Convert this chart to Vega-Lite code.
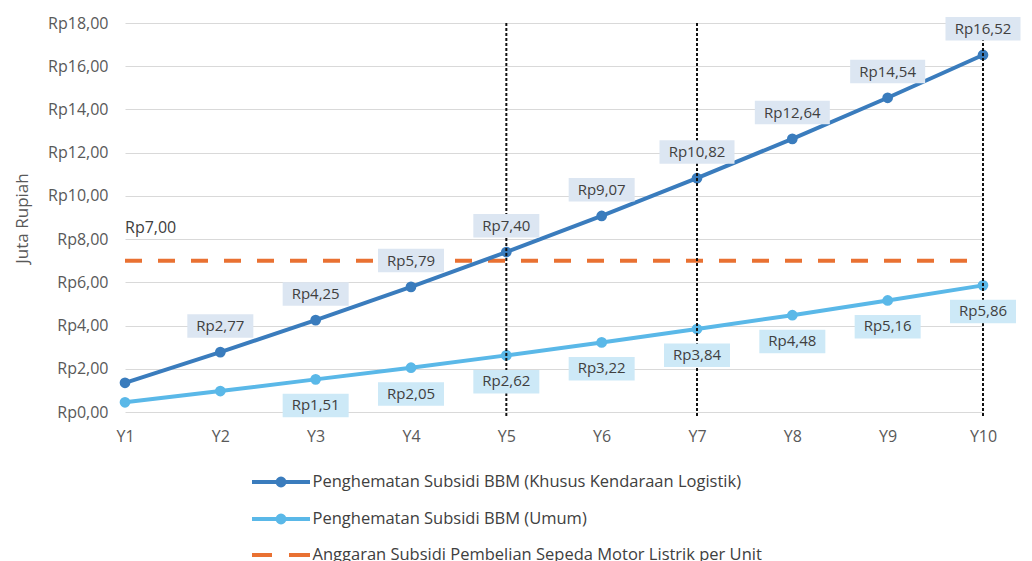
{
  "$schema": "https://vega.github.io/schema/vega-lite/v6.json",
  "autosize": "none",
  "width": 858,
  "height": 389,
  "padding": {"left": 125, "top": 23, "right": 49, "bottom": 149},
  "background": "white",
  "config": {
    "locale": {"number": {"decimal": ",", "thousands": ".", "grouping": [3], "currency": ["Rp", ""]}},
    "view": {"stroke": null},
    "font": "Open Sans"
  },
  "datasets": {
    "lines": [
      {"x": "Y1", "series": "Penghematan Subsidi BBM (Khusus Kendaraan Logistik)", "v": 1.35},
      {"x": "Y2", "series": "Penghematan Subsidi BBM (Khusus Kendaraan Logistik)", "v": 2.77},
      {"x": "Y3", "series": "Penghematan Subsidi BBM (Khusus Kendaraan Logistik)", "v": 4.25},
      {"x": "Y4", "series": "Penghematan Subsidi BBM (Khusus Kendaraan Logistik)", "v": 5.79},
      {"x": "Y5", "series": "Penghematan Subsidi BBM (Khusus Kendaraan Logistik)", "v": 7.40},
      {"x": "Y6", "series": "Penghematan Subsidi BBM (Khusus Kendaraan Logistik)", "v": 9.07},
      {"x": "Y7", "series": "Penghematan Subsidi BBM (Khusus Kendaraan Logistik)", "v": 10.82},
      {"x": "Y8", "series": "Penghematan Subsidi BBM (Khusus Kendaraan Logistik)", "v": 12.64},
      {"x": "Y9", "series": "Penghematan Subsidi BBM (Khusus Kendaraan Logistik)", "v": 14.54},
      {"x": "Y10", "series": "Penghematan Subsidi BBM (Khusus Kendaraan Logistik)", "v": 16.52},
      {"x": "Y1", "series": "Penghematan Subsidi BBM (Umum)", "v": 0.45},
      {"x": "Y2", "series": "Penghematan Subsidi BBM (Umum)", "v": 0.97},
      {"x": "Y3", "series": "Penghematan Subsidi BBM (Umum)", "v": 1.51},
      {"x": "Y4", "series": "Penghematan Subsidi BBM (Umum)", "v": 2.05},
      {"x": "Y5", "series": "Penghematan Subsidi BBM (Umum)", "v": 2.62},
      {"x": "Y6", "series": "Penghematan Subsidi BBM (Umum)", "v": 3.22},
      {"x": "Y7", "series": "Penghematan Subsidi BBM (Umum)", "v": 3.84},
      {"x": "Y8", "series": "Penghematan Subsidi BBM (Umum)", "v": 4.48},
      {"x": "Y9", "series": "Penghematan Subsidi BBM (Umum)", "v": 5.16},
      {"x": "Y10", "series": "Penghematan Subsidi BBM (Umum)", "v": 5.86}
    ],
    "budget": [
      {"x": "Y1", "series": "Anggaran Subsidi Pembelian Sepeda Motor Listrik per Unit", "v": 7.0},
      {"x": "Y10", "series": "Anggaran Subsidi Pembelian Sepeda Motor Listrik per Unit", "v": 7.0}
    ],
    "dark_labels": [
      {"x": "Y2", "v": 2.77}, {"x": "Y3", "v": 4.25}, {"x": "Y4", "v": 5.79},
      {"x": "Y5", "v": 7.40}, {"x": "Y6", "v": 9.07}, {"x": "Y7", "v": 10.82},
      {"x": "Y8", "v": 12.64}, {"x": "Y9", "v": 14.54}, {"x": "Y10", "v": 16.52}
    ],
    "light_labels": [
      {"x": "Y3", "v": 1.51}, {"x": "Y4", "v": 2.05}, {"x": "Y5", "v": 2.62},
      {"x": "Y6", "v": 3.22}, {"x": "Y7", "v": 3.84}, {"x": "Y8", "v": 4.48},
      {"x": "Y9", "v": 5.16}, {"x": "Y10", "v": 5.86}
    ],
    "markers": [{"x": "Y5"}, {"x": "Y7"}, {"x": "Y10"}],
    "budget_label": [{"x": "Y1", "v": 7.0}]
  },
  "encoding": {
    "x": {
      "field": "x", "type": "ordinal",
      "scale": {"type": "point", "padding": 0, "domain": ["Y1","Y2","Y3","Y4","Y5","Y6","Y7","Y8","Y9","Y10"]},
      "axis": {"title": null, "domain": false, "ticks": false, "grid": false, "labelAngle": 0,
               "labelPadding": 16, "labelFontSize": 16, "labelColor": "#595959"}
    },
    "y": {
      "field": "v", "type": "quantitative",
      "scale": {"domain": [0, 18], "nice": false},
      "axis": {"title": "Juta Rupiah", "values": [0,2,4,6,8,10,12,14,16,18], "format": "$.2f",
               "domain": false, "ticks": false, "grid": true, "gridColor": "#d9d9d9", "gridWidth": 1,
               "labelPadding": 17, "labelFontSize": 16, "labelColor": "#595959",
               "titleFontSize": 17, "titleFontWeight": "normal", "titleColor": "#595959",
               "titleX": -103, "titleY": 195, "titleAngle": -90, "titleBaseline": "middle", "titleAlign": "center"}
    }
  },
  "layer": [
    {
      "data": {"name": "budget"},
      "mark": {"type": "line", "strokeWidth": 4, "strokeDash": [17, 16], "color": "#e97132"},
      "encoding": {
        "opacity": {
          "field": "series", "type": "nominal",
          "scale": {"domain": ["Anggaran Subsidi Pembelian Sepeda Motor Listrik per Unit"], "range": [1]},
          "legend": {
            "title": null, "orient": "none", "legendX": 139.5, "legendY": 515.5, "direction": "vertical",
            "labelFontSize": 16.5, "labelColor": "#404040", "labelLimit": 700, "labelOffset": 15,
            "symbolType": "M-2,0 H2", "symbolSize": 841, "symbolStrokeWidth": 4,
            "symbolStrokeColor": "#e97132", "symbolFillColor": "transparent", "symbolDash": [20, 17, 21, 100]
          }
        }
      }
    },
    {
      "data": {"name": "lines"},
      "mark": {"type": "line", "strokeWidth": 4},
      "encoding": {
        "color": {
          "field": "series", "type": "nominal",
          "scale": {
            "domain": ["Penghematan Subsidi BBM (Khusus Kendaraan Logistik)", "Penghematan Subsidi BBM (Umum)"],
            "range": ["#3a7cbd", "#5ab8e8"]
          },
          "legend": {
            "title": null, "orient": "none", "legendX": 139.5, "legendY": 442.5, "direction": "vertical",
            "labelFontSize": 16.5, "labelColor": "#404040", "labelLimit": 700, "labelOffset": 15, "rowPadding": 9,
            "symbolType": "M-2,0 H2 M0.24,0 A0.24,0.24 0 1 1 -0.24,0 A0.24,0.24 0 1 1 0.24,0 M0.07,0 A0.07,0.07 0 1 1 -0.07,0 A0.07,0.07 0 1 1 0.07,0",
            "symbolSize": 841, "symbolStrokeWidth": 4
          }
        }
      }
    },
    {
      "data": {"name": "lines"},
      "mark": {"type": "point", "filled": true, "size": 115, "opacity": 1},
      "encoding": {"color": {"field": "series", "type": "nominal", "legend": null}}
    },
    {
      "data": {"name": "markers"},
      "mark": {"type": "rule", "color": "#111111", "strokeWidth": 2, "strokeDash": [3, 2]},
      "encoding": {"x": {"field": "x", "type": "ordinal"}, "y": {"value": 0}, "y2": {"value": 394}}
    },
    {
      "data": {"name": "dark_labels"},
      "mark": {"type": "point", "filled": true, "size": 400, "opacity": 1, "strokeWidth": 0, "color": "#dce6f2"},
      "encoding": {
        "shape": {"condition": {"test": "datum.v >= 10", "value": "M-3.75,-3.8 H3.75 V-1.45 H-3.75 Z"}, "value": "M-3.3,-3.8 H3.3 V-1.45 H-3.3 Z"}
      }
    },
    {
      "data": {"name": "dark_labels"},
      "mark": {"type": "text", "dy": -26, "fontSize": 15, "color": "#404040", "baseline": "middle"},
      "encoding": {"text": {"field": "v", "type": "quantitative", "format": "$.2f"}}
    },
    {
      "data": {"name": "light_labels"},
      "mark": {"type": "point", "filled": true, "size": 400, "opacity": 1, "strokeWidth": 0, "color": "#cde9f7"},
      "encoding": {
        "shape": {"value": "M-3.3,1.45 H3.3 V3.8 H-3.3 Z"}
      }
    },
    {
      "data": {"name": "light_labels"},
      "mark": {"type": "text", "dy": 26, "fontSize": 15, "color": "#404040", "baseline": "middle"},
      "encoding": {"text": {"field": "v", "type": "quantitative", "format": "$.2f"}}
    },
    {
      "data": {"name": "budget_label"},
      "mark": {"type": "text", "dy": -33, "fontSize": 16, "color": "#404040", "align": "left", "baseline": "middle"},
      "encoding": {"text": {"field": "v", "type": "quantitative", "format": "$.2f"}}
    }
  ]
}
